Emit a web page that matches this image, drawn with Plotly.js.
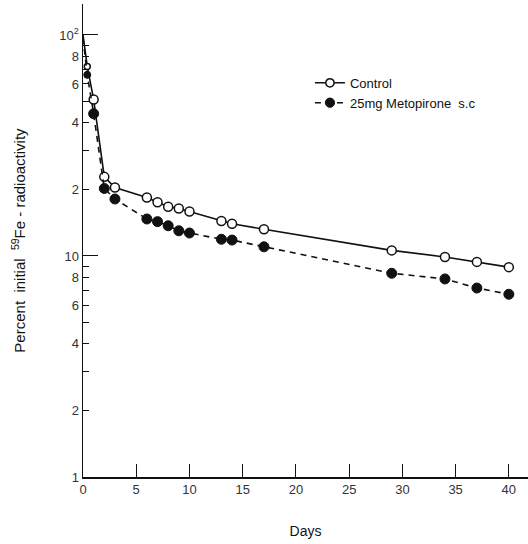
<!DOCTYPE html>
<html>
<head>
<meta charset="utf-8">
<script src="https://cdn.plot.ly/plotly-3.0.1.min.js"></script>
<style>html,body{margin:0;padding:0;background:#fff;}#chart{width:528px;height:544px;}</style>
</head>
<body>
<div id="chart"></div>
<script>
// Data
const controlDays = [0, 0.4, 1, 2, 3, 6, 7, 8, 9, 10, 13, 14, 17, 29, 34, 37, 40];
const controlValues = [100, 72, 51, 22.8, 20.4, 18.4, 17.5, 16.7, 16.4, 15.9, 14.4, 14.0, 13.2, 10.6, 9.9, 9.4, 8.9];
const metoDays = [0, 0.4, 1, 2, 3, 6, 7, 8, 9, 10, 13, 14, 17, 29, 34, 37, 40];
const metoValues = [97, 66, 44, 20.2, 18.1, 14.7, 14.3, 13.7, 13.0, 12.7, 11.9, 11.8, 11.0, 8.35, 7.87, 7.16, 6.71];
const seriesNames = ["Control", "25mg Metopirone  s.c"];
const xTickVals = [0, 5, 10, 15, 20, 25, 30, 35, 40];
const xTickText = ["0", "5", "10", "15", "20", "25", "30", "35", "40"];
const yTickVals = [1, 2, 4, 6, 8, 10, 20, 40, 60, 80, 100];
const yTickText = ["1", "2", "4", "6", "8", "10", "2", "4", "6", "8", "10<sup>2</sup>"];
const yMinorVals = [3, 5, 7, 9, 30, 50, 70, 90];
const yMajorVals = [10, 100];

const fontFam = "Liberation Sans, Arial, sans-serif";
const ink = "#111";

// no visible marker at the starting point (day 0), small ones in the first hours
const sizeFor = (days, s) => days.map(d => d === 0 ? 0 : (d < 1 ? s - 3 : s));

const traces = [
  {
    x: controlDays, y: controlValues, name: seriesNames[0], type: "scatter", mode: "lines+markers",
    line: {color: ink, width: 1.6, dash: "solid"},
    marker: {symbol: "circle", size: sizeFor(controlDays, 9), opacity: 1, color: "#fff", line: {color: ink, width: 1.5}}
  },
  {
    x: metoDays, y: metoValues, name: seriesNames[1], type: "scatter", mode: "lines+markers",
    line: {color: ink, width: 1.6, dash: "6px,5px"},
    marker: {symbol: "circle", size: sizeFor(metoDays, 10), opacity: 1, color: ink, line: {color: ink, width: 1}}
  },
  {
    x: [], y: [], yaxis: "y2", showlegend: false, hoverinfo: "skip", type: "scatter", mode: "markers"
  }
];

const layout = {
  width: 528, height: 544,
  margin: {l: 83, r: 0, t: 4, b: 67},
  paper_bgcolor: "#fff", plot_bgcolor: "#fff",
  font: {family: fontFam, color: ink, size: 13},
  showlegend: true,
  legend: {
    x: 0.51, y: 0.865, xanchor: "left", yanchor: "top",
    bgcolor: "rgba(0,0,0,0)", borderwidth: 0,
    font: {family: fontFam, size: 13, color: ink},
    tracegroupgap: 0, itemwidth: 30
  },
  xaxis: {
    range: [0, 41.8], showgrid: false, zeroline: false,
    showline: true, linecolor: ink, linewidth: 1.5,
    ticks: "inside", ticklen: 13, tickwidth: 1, tickcolor: ink,
    tickmode: "array", tickvals: xTickVals, ticktext: xTickText,
    tickfont: {family: fontFam, size: 13, color: "#333"},
    title: {text: "Days", font: {family: fontFam, size: 14, color: ink}, standoff: 30}
  },
  yaxis: {
    type: "log", range: [0, 2.14], showgrid: false, zeroline: false,
    showline: true, linecolor: ink, linewidth: 1.5,
    ticks: "inside", ticklen: 6, tickwidth: 1, tickcolor: ink,
    tickmode: "array", tickvals: yTickVals, ticktext: yTickText,
    tickfont: {family: fontFam, size: 13, color: "#333"},
    minor: {tickmode: "array", tickvals: yMinorVals, ticks: "inside", ticklen: 6, tickwidth: 1, tickcolor: ink, showgrid: false},
    title: {text: "Percent  initial  <sup>59</sup>Fe - radioactivity", font: {family: fontFam, size: 15, color: ink}, standoff: 30}
  },
  yaxis2: {
    type: "log", range: [0, 2.14], overlaying: "y", side: "left", anchor: "x",
    showgrid: false, zeroline: false, showline: false,
    ticks: "inside", ticklen: 15, tickwidth: 1, tickcolor: ink,
    tickmode: "array", tickvals: yMajorVals, showticklabels: false
  }
};

Plotly.newPlot("chart", traces, layout, {displayModeBar: false, staticPlot: true});
</script>
</body>
</html>
